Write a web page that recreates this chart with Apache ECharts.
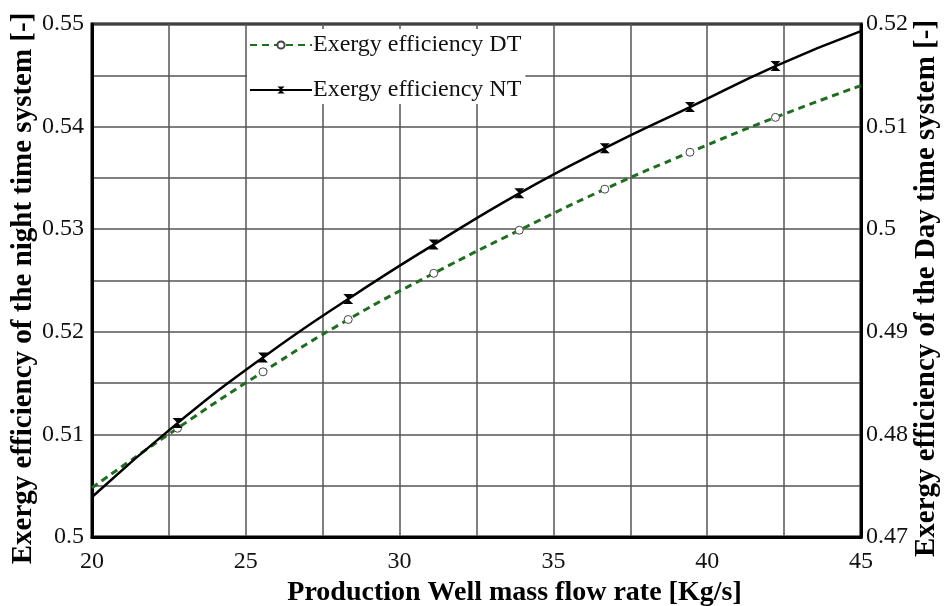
<!DOCTYPE html>
<html lang="en">
<head>
    <meta charset="UTF-8">
    <title>Exergy efficiency</title>
    <script src="https://cdn.jsdelivr.net/npm/echarts@6/dist/echarts.min.js"></script>
    <style>
        body { margin: 0; background: #fff; }
    </style>
</head>
<body>
<div id="main" style="width: 944px;height: 606px"></div>
<script>
    // mass flow rate [kg/s]
    var flowRate = [20, 22.78, 25.56, 28.33, 31.11, 33.89, 36.67, 39.44, 42.22, 45];
    // night time system (left axis)
    var exergyNT = [0.5039, 0.5111, 0.5175, 0.5232, 0.5285, 0.5335, 0.5379, 0.5419, 0.5459, 0.5493];
    // day time system (right axis)
    var exergyDT = [0.4748, 0.4806, 0.4861, 0.4912, 0.4957, 0.4999, 0.5039, 0.5075, 0.5109, 0.5140];

    var serif = '"Liberation Serif", "DejaVu Serif", serif';

    function pairs(xs, ys) {
        var out = [];
        for (var i = 0; i < xs.length; i++) out.push([xs[i], ys[i]]);
        return out;
    }
    // no marker on the two end points
    function endless(size) {
        return function (v, p) {
            return (p.dataIndex === 0 || p.dataIndex === flowRate.length - 1) ? 0 : size;
        };
    }
    function fmt(v) { return String(+v.toFixed(3)); }

    var myChart = echarts.init(document.getElementById('main'));
    var option = {
        animation: false,
        grid: {
            left: 92, right: 83, top: 24, bottom: 69,
            containLabel: false, outerBoundsMode: 'none',
            show: true, borderColor: '#000', borderWidth: 3, backgroundColor: 'transparent'
        },
        legend: {
            orient: 'vertical',
            left: 247, top: 29,
            itemWidth: 62, itemHeight: 9, itemGap: 21,
            backgroundColor: '#fff',
            padding: [4, 4, 2, 2],
            textStyle: { fontFamily: serif, fontSize: 24, color: '#111', padding: [0, 0, 0, -4] },
            data: ['Exergy efficiency DT', 'Exergy efficiency NT']
        },
        xAxis: {
            type: 'value', min: 20, max: 45, interval: 5,
            name: 'Production Well mass flow rate [Kg/s]',
            nameLocation: 'middle', nameGap: 40,
            nameTextStyle: { fontFamily: serif, fontSize: 28, fontWeight: 'bold', color: '#000', padding: [0, 0, 0, 76] },
            axisLine: { lineStyle: { color: '#000', width: 3 } },
            axisTick: { show: false },
            axisLabel: { fontFamily: serif, fontSize: 24, color: '#111', margin: 13 },
            splitLine: { lineStyle: { color: '#555', width: 1.5 } },
            minorTick: { show: false, splitNumber: 2 },
            minorSplitLine: { show: true, lineStyle: { color: '#555', width: 1.5 } }
        },
        yAxis: [{
            type: 'value', min: 0.5, max: 0.55, interval: 0.01,
            name: 'Exergy efficiency of the night time system [-]',
            nameLocation: 'middle', nameGap: 54, nameMoveOverlap: false,
            nameTextStyle: { fontFamily: serif, fontSize: 29, fontWeight: 'bold', color: '#000', padding: [0, 16, 0, 0] },
            axisLine: { show: true, lineStyle: { color: '#000', width: 3 } },
            axisTick: { show: false },
            axisLabel: { fontFamily: serif, fontSize: 24, color: '#111', margin: 8, formatter: fmt },
            splitLine: { lineStyle: { color: '#555', width: 1.5 } },
            minorTick: { show: false, splitNumber: 2 },
            minorSplitLine: { show: true, lineStyle: { color: '#555', width: 1.5 } }
        }, {
            type: 'value', min: 0.47, max: 0.52, interval: 0.01,
            name: 'Exergy efficiency of the Day time system [-]',
            nameLocation: 'middle', nameGap: 51, nameMoveOverlap: false,
            nameTextStyle: { fontFamily: serif, fontSize: 29, fontWeight: 'bold', color: '#000', padding: [0, 16, 0, 0] },
            axisLine: { show: true, lineStyle: { color: '#000', width: 3 } },
            axisTick: { show: false },
            axisLabel: { fontFamily: serif, fontSize: 24, color: '#111', margin: 5, formatter: fmt },
            splitLine: { show: false }
        }],
        series: [{
            name: 'Exergy efficiency DT',
            type: 'line',
            yAxisIndex: 1,
            smooth: true,
            symbol: 'circle',
            symbolSize: endless(8),
            itemStyle: { color: '#fff', borderColor: '#444', borderWidth: 1 },
            lineStyle: { color: '#1f6e1f', width: 3, type: [7, 5] },
            data: pairs(flowRate, exergyDT),
            z: 3
        }, {
            name: 'Exergy efficiency NT',
            type: 'line',
            yAxisIndex: 0,
            smooth: true,
            symbol: 'path://M0,0 L10,0 L5,5 L10,10 L0,10 L5,5 Z',
            symbolSize: endless([10, 10]),
            symbolKeepAspect: true,
            itemStyle: { color: '#000' },
            lineStyle: { color: '#000', width: 2.5 },
            data: pairs(flowRate, exergyNT),
            z: 4
        }]
    };
    myChart.setOption(option);
</script>
</body>
</html>
